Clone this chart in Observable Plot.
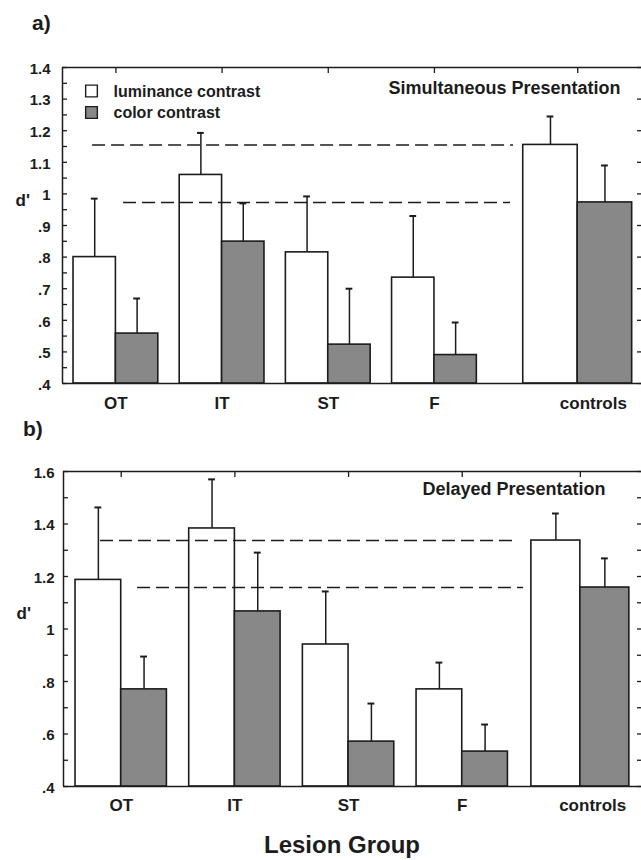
<!DOCTYPE html>
<html>
<head>
<meta charset="utf-8">
<script src="https://cdn.jsdelivr.net/npm/d3@7"></script>
<script src="https://cdn.jsdelivr.net/npm/@observablehq/plot@0.6"></script>
<style>
  body { margin: 0; background: #fff; }
  #page { position: relative; width: 641px; height: 860px; overflow: hidden; background: #fff;
          font-family: "Liberation Sans", Arial, sans-serif; color: #1c1c1c; }
  .lbl { position: absolute; font-weight: bold; white-space: nowrap; }
  .panel { position: absolute; left: 0; }
</style>
</head>
<body>
<div id="page">
  <div class="lbl" style="left:32px; top:12px; font-size:21px; line-height:21px;">a)</div>
  <div class="lbl" style="left:23px; top:418px; font-size:21px; line-height:21px;">b)</div>
  <div id="top" class="panel" style="top:45px;"></div>
  <div id="bottom" class="panel" style="top:455px;"></div>
  <div class="lbl" style="left:182px; width:320px; text-align:center; top:833px; font-size:24px; line-height:24px;">Lesion Group</div>
</div>
<script>
// ---------------- data ----------------
const groups = ["OT", "IT", "ST", "F", "controls"];
const seriesLabels = ["luminance contrast", "color contrast"];

// a) Simultaneous Presentation: mean d' and standard error
const simLum    = [0.800, 1.060, 0.815, 0.735, 1.155];
const simLumErr = [0.185, 0.133, 0.177, 0.195, 0.090];
const simCol    = [0.558, 0.849, 0.523, 0.490, 0.973];
const simColErr = [0.111, 0.121, 0.177, 0.103, 0.117];

// b) Delayed Presentation
const delLum    = [1.187, 1.383, 0.941, 0.770, 1.337];
const delLumErr = [0.276, 0.187, 0.202, 0.102, 0.103];
const delCol    = [0.770, 1.067, 0.571, 0.533, 1.158];
const delColErr = [0.125, 0.224, 0.145, 0.103, 0.111];

// tick values
const simLabelTicks = [0.4, 0.5, 0.6, 0.7, 0.8, 0.9, 1, 1.1, 1.2, 1.3, 1.4];
const simHalfTicks  = [0.45, 0.55, 0.65, 0.75, 0.85, 0.95, 1.05, 1.15, 1.25, 1.35];
const delLabelTicks = [0.4, 0.6, 0.8, 1, 1.2, 1.4, 1.6];
const delOddTicks   = [0.5, 0.7, 0.9, 1.1, 1.3, 1.5];

// ---------------- styling / layout ----------------
const INK = "#1c1c1c";
const GRAY = "#888888";
const FONT = "'Liberation Sans', Arial, Helvetica, sans-serif";
const fmt = d => { const s = String(+d.toFixed(2)); return d < 1 ? s.slice(1) : s; };

function panel(cfg) {
  const L = cfg.layout;
  const rows = [];
  groups.forEach((g, i) => {
    const ctrl = i === groups.length - 1;
    const left = ctrl ? L.ctrlLeft : L.first + L.step * i;
    const w = ctrl ? L.ctrlWidth : 1;
    rows.push({g, i, kind: "lum", x1: left, x2: left + w, v: cfg.lum[i], e: cfg.lumErr[i]});
    rows.push({g, i, kind: "col", x1: left + w, x2: left + 2 * w, v: cfg.col[i], e: cfg.colErr[i]});
  });
  const center = d => (d.x1 + d.x2) / 2;
  const groupCenters = groups.map((g, i) => rows[2 * i].x2);
  const labelX = groups.map((g, i) => groupCenters[i] + (i === groups.length - 1 ? L.ctrlLabelShift : 0));
  const [yMin, yMax] = cfg.yDomain;
  const nCtrl = groups.length - 1;
  const refLines = [
    {v: cfg.lum[nCtrl], x1: L.dash[0][0], x2: L.dash[0][1]},
    {v: cfg.col[nCtrl], x1: L.dash[1][0], x2: L.dash[1][1]}
  ];

  const marks = [
    // bars
    Plot.rectY(rows.filter(d => d.kind === "lum"), {x1: "x1", x2: "x2", y1: yMin, y2: "v", fill: "white", stroke: INK, strokeWidth: 1.6}),
    Plot.rectY(rows.filter(d => d.kind === "col"), {x1: "x1", x2: "x2", y1: yMin, y2: "v", fill: GRAY, stroke: INK, strokeWidth: 1.6}),
    // error bars
    Plot.ruleX(rows, {x: center, y1: "v", y2: d => d.v + d.e, stroke: INK, strokeWidth: 1.5}),
    Plot.ruleY(rows, {y: d => d.v + d.e, x1: d => center(d) - L.cap, x2: d => center(d) + L.cap, stroke: INK, strokeWidth: 2}),
    // control reference lines
    Plot.ruleY(refLines, {y: "v", x1: "x1", x2: "x2", stroke: INK, strokeWidth: 1.5, strokeDasharray: "13,6"}),
    // frame
    Plot.ruleY([yMin, yMax], {stroke: INK, strokeWidth: 1.5}),
    Plot.ruleX([0], {stroke: INK, strokeWidth: 1.5}),
    // axes
    Plot.axisY(cfg.labelTicks, {anchor: "left", label: null, tickSize: 0, tickPadding: L.tickPad, tickFormat: fmt,
      fontSize: 15, fontWeight: "bold", fill: INK, dy: 1.5}),
    Plot.axisY([...cfg.labelTicks, ...cfg.leftExtra], {anchor: "left", label: null, tickSize: 5, dx: 5, tickFormat: () => "", stroke: INK, strokeWidth: 1.3}),
    Plot.axisY(cfg.rightTicks, {anchor: "right", label: null, tickSize: 5, dx: -5, tickFormat: () => "", stroke: INK, strokeWidth: 1.3}),
    Plot.axisX(groupCenters, {anchor: "top", label: null, tickSize: 5, dy: 5, tickFormat: () => "", stroke: INK, strokeWidth: 1.3}),
    // category labels
    Plot.text(groups, {x: (d, i) => labelX[i], y: yMin, dy: L.catDy, text: d => d, fontSize: 17, fontWeight: "bold", fill: INK, lineAnchor: "middle"}),
    // y label
    Plot.text(["d'"], {frameAnchor: "left", dx: -47, dy: L.dLabelDy, text: d => d, fontSize: 17, fontWeight: "bold", fill: INK}),
    // panel title
    Plot.text([cfg.title], {frameAnchor: "top-right", dx: L.titleDx, dy: L.titleDy, text: d => d, textAnchor: "end", lineAnchor: "middle",
      fontSize: 18, fontWeight: "bold", fill: INK})
  ];

  if (cfg.legend) {
    marks.push(
      Plot.dot([seriesLabels[0]], {frameAnchor: "top-left", dx: 29, dy: 23.5, symbol: "square", r: 6.6, fill: "white", stroke: INK, strokeWidth: 1.4}),
      Plot.dot([seriesLabels[1]], {frameAnchor: "top-left", dx: 29, dy: 45, symbol: "square", r: 6.6, fill: GRAY, stroke: INK, strokeWidth: 1.4}),
      Plot.text([seriesLabels[0]], {frameAnchor: "top-left", dx: 51, dy: 24, text: d => d, textAnchor: "start", lineAnchor: "middle", fontSize: 16, fontWeight: "bold", fill: INK}),
      Plot.text([seriesLabels[1]], {frameAnchor: "top-left", dx: 51, dy: 45, text: d => d, textAnchor: "start", lineAnchor: "middle", fontSize: 16, fontWeight: "bold", fill: INK})
    );
  }

  return Plot.plot({
    width: 641,
    height: 375,
    marginLeft: L.marginLeft,
    marginRight: 0,
    marginTop: L.marginTop,
    marginBottom: L.marginBottom,
    style: {fontFamily: FONT, background: "white", color: INK},
    x: {domain: [0, L.xMax]},
    y: {domain: cfg.yDomain},
    marks
  });
}

const topLayout = {marginLeft: 62, marginTop: 22, marginBottom: 37, xMax: 13.66, first: 0.26, step: 2.505,
  ctrlLeft: 10.87, ctrlWidth: 1.285, ctrlLabelShift: 0.37, cap: 0.08, tickPad: 12, catDy: 20,
  dLabelDy: -25, titleDx: -21, titleDy: 21, dash: [[0.71, 10.64], [1.44, 10.57]]};
const bottomLayout = {marginLeft: 63, marginTop: 16, marginBottom: 44, xMax: 12.65, first: 0.263, step: 2.488,
  ctrlLeft: 10.24, ctrlWidth: 1.072, ctrlLabelShift: 0.27, cap: 0.075, tickPad: 9, catDy: 19,
  dLabelDy: -15, titleDx: -36, titleDy: 18, dash: [[0.81, 9.89], [1.62, 10.07]]};

document.getElementById("top").append(panel({
  lum: simLum, lumErr: simLumErr, col: simCol, colErr: simColErr,
  yDomain: [0.4, 1.4], labelTicks: simLabelTicks, leftExtra: simHalfTicks, rightTicks: simLabelTicks,
  title: "Simultaneous Presentation", legend: true, layout: topLayout
}));
document.getElementById("bottom").append(panel({
  lum: delLum, lumErr: delLumErr, col: delCol, colErr: delColErr,
  yDomain: [0.4, 1.6], labelTicks: delLabelTicks, leftExtra: delOddTicks, rightTicks: [...delLabelTicks, ...delOddTicks],
  title: "Delayed Presentation", legend: false, layout: bottomLayout
}));
</script>
</body>
</html>
